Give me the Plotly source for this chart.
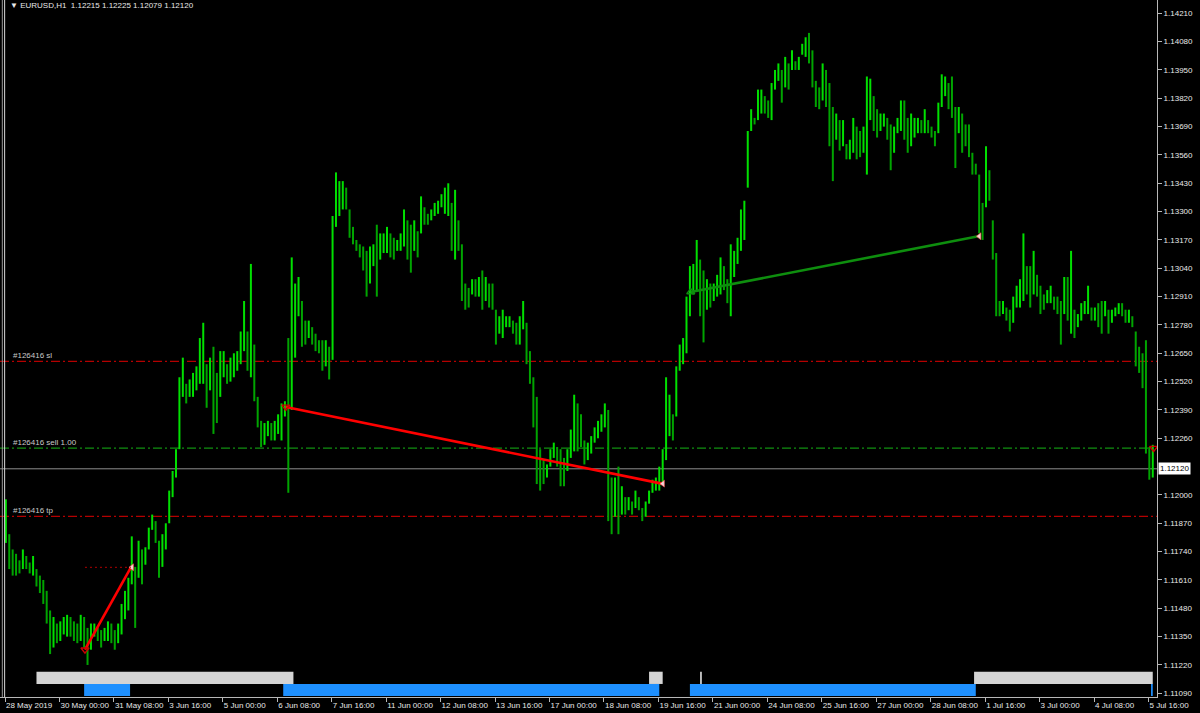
import plotly.graph_objects as go
from datetime import datetime, timedelta

# ---------------- data ----------------
SYMBOL = "EURUSD,H1"
header_ohlc = [1.12215, 1.12225, 1.12079, 1.12120]
first_bar_time = "2019-05-28 16:00"
n_hours = 676          # hourly bars on the chart (weekends skipped)
hours_per_bar = 2      # values below are read as 2-hour high/low ranges
label_every = 32       # hourly bars between time-axis labels

bar_high = [
    1.1198, 1.1182, 1.1175, 1.1173, 1.1170, 1.1175, 1.1172, 1.1169, 1.1172, 1.1166,
    1.1163, 1.1161, 1.1156, 1.1147, 1.1144, 1.1141, 1.1142, 1.1144, 1.1145, 1.1144,
    1.1142, 1.1141, 1.1145, 1.1144, 1.1139, 1.1141, 1.1141, 1.1139, 1.1138, 1.1139,
    1.1142, 1.1141, 1.1138, 1.1141, 1.1150, 1.1156, 1.1162, 1.1181, 1.1167, 1.1179,
    1.1175, 1.1176, 1.1185, 1.1191, 1.1188, 1.1179, 1.1182, 1.1187, 1.1202, 1.1211,
    1.1221, 1.1254, 1.1263, 1.1251, 1.1253, 1.1256, 1.1259, 1.1272, 1.1279, 1.1260,
    1.1263, 1.1268, 1.1256, 1.1266, 1.1266, 1.1260, 1.1263, 1.1265,
    1.1266, 1.1275, 1.1289, 1.1275, 1.1306, 1.1269, 1.1245, 1.1234, 1.1233, 1.1234, 1.1233,
    1.1234, 1.1237, 1.1242, 1.1243, 1.1272, 1.1309, 1.1297, 1.1300, 1.1289, 1.1280,
    1.1280, 1.1277, 1.1274, 1.1271, 1.1271, 1.1271, 1.1268, 1.1328, 1.1348, 1.1344,
    1.1344, 1.1341, 1.1331, 1.1323, 1.1317, 1.1315, 1.1314, 1.1312, 1.1314, 1.1315,
    1.1324, 1.1320, 1.1320, 1.1323, 1.1320,
    1.1318, 1.1317, 1.1320, 1.1331, 1.1326, 1.1324, 1.1326, 1.1321, 1.1337, 1.1332,
    1.1329, 1.1331, 1.1334, 1.1335, 1.1338, 1.1341, 1.1343, 1.1334, 1.1340, 1.1326,
    1.1315, 1.1297, 1.1295, 1.1299, 1.1299, 1.1300, 1.1303, 1.1300, 1.1297,
    1.1297, 1.1285, 1.1282, 1.1285, 1.1282, 1.1282, 1.1280, 1.1279, 1.1282,
    1.1289, 1.1279, 1.1266, 1.1254, 1.1245, 1.1221, 1.1216, 1.1214, 1.1221, 1.1224,
    1.1222, 1.1221, 1.1217, 1.1221, 1.1230, 1.1246, 1.1242, 1.1237, 1.1225, 1.1224,
    1.1227, 1.1231, 1.1234, 1.1237, 1.1242, 1.1239, 1.1208, 1.1208, 1.1213, 1.1204,
    1.1199, 1.1199, 1.1197, 1.1202, 1.1199, 1.1194, 1.1197, 1.1202, 1.1207, 1.1208,
    1.1213, 1.1221, 1.1254, 1.1246, 1.1237, 1.1259, 1.1269, 1.1272, 1.1291, 1.1305,
    1.1306, 1.1317, 1.1308, 1.1303, 1.1299, 1.1297, 1.1297, 1.1301, 1.1309, 1.1305,
    1.1299, 1.1315, 1.1312, 1.1318, 1.1331, 1.1335,
    1.1367, 1.1377, 1.1373, 1.1386, 1.1386, 1.1383, 1.1381, 1.1389, 1.1395, 1.1398,
    1.1395, 1.1401, 1.1398, 1.1404, 1.1399, 1.1401, 1.1407, 1.1410, 1.1412, 1.1404,
    1.1390, 1.1387, 1.1398, 1.1395, 1.1389, 1.1378, 1.1375, 1.1372, 1.1372, 1.1361,
    1.1363, 1.1373, 1.1369, 1.1367, 1.1369, 1.1392, 1.1391, 1.1383, 1.1377, 1.1375,
    1.1375, 1.1373, 1.1370, 1.1369, 1.1373, 1.1381, 1.1381, 1.1373, 1.1375, 1.1373,
    1.1373, 1.1372, 1.1377, 1.1372, 1.1369, 1.1367, 1.1380, 1.1393, 1.1392, 1.1389,
    1.1392, 1.1378, 1.1378, 1.1375, 1.1370, 1.1370, 1.1357, 1.1352, 1.1347, 1.1334,
    1.1360, 1.1349, 1.1326, 1.1311, 1.1289, 1.1289, 1.1286, 1.1285, 1.1291,
    1.1296, 1.1299, 1.1320, 1.1305, 1.1305, 1.1312, 1.1301, 1.1296, 1.1292, 1.1294,
    1.1296, 1.1291, 1.1291, 1.1289, 1.1300, 1.1300, 1.1312, 1.1285, 1.1283,
    1.1288, 1.1289, 1.1296, 1.1286, 1.1286, 1.1288, 1.1289, 1.1289, 1.1285, 1.1285,
    1.1286, 1.1288, 1.1288, 1.1285, 1.1285, 1.1282, 1.1275, 1.1268, 1.1265, 1.1271, 1.1222, 1.1223,
]
bar_low = [
    1.1178, 1.1166, 1.1163, 1.1163, 1.1164, 1.1166, 1.1166, 1.1164, 1.1163, 1.1158,
    1.1155, 1.1150, 1.1141, 1.1127, 1.1130, 1.1132, 1.1133, 1.1136, 1.1135, 1.1135,
    1.1133, 1.1132, 1.1133, 1.1130, 1.1122, 1.1129, 1.1135, 1.1133, 1.1130, 1.1133,
    1.1133, 1.1132, 1.1129, 1.1132, 1.1136, 1.1143, 1.1147, 1.1159, 1.1139, 1.1162,
    1.1159, 1.1168, 1.1175, 1.1184, 1.1178, 1.1162, 1.1167, 1.1175, 1.1187, 1.1199,
    1.1208, 1.1221, 1.1245, 1.1242, 1.1245, 1.1245, 1.1248, 1.1251, 1.1251, 1.1240,
    1.1248, 1.1228, 1.1233, 1.1245, 1.1254, 1.1251, 1.1252, 1.1254,
    1.1257, 1.1260, 1.1266, 1.1257, 1.1254, 1.1243, 1.1231, 1.1222, 1.1223, 1.1227, 1.1225,
    1.1225, 1.1228, 1.1225, 1.1236, 1.1201, 1.1239, 1.1263, 1.1282, 1.1268, 1.1269,
    1.1272, 1.1269, 1.1266, 1.1265, 1.1257, 1.1259, 1.1253, 1.1262, 1.1323, 1.1328,
    1.1331, 1.1331, 1.1318, 1.1315, 1.1312, 1.1309, 1.1303, 1.1291, 1.1297, 1.1305,
    1.1291, 1.1308, 1.1311, 1.1311, 1.1309,
    1.1308, 1.1312, 1.1312, 1.1314, 1.1308, 1.1302, 1.1312, 1.1309, 1.1320, 1.1324,
    1.1324, 1.1326, 1.1328, 1.1329, 1.1332, 1.1329, 1.1328, 1.1312, 1.1308, 1.1312,
    1.1289, 1.1285, 1.1286, 1.1292, 1.1291, 1.1291, 1.1285, 1.1289, 1.1286,
    1.1285, 1.1269, 1.1274, 1.1272, 1.1277, 1.1277, 1.1274, 1.1269, 1.1269,
    1.1276, 1.1260, 1.1251, 1.1231, 1.1205, 1.1202, 1.1205, 1.1208, 1.1213, 1.1217,
    1.1213, 1.1204, 1.1204, 1.1211, 1.1217, 1.1220, 1.1220, 1.1222, 1.1214, 1.1216,
    1.1219, 1.1224, 1.1226, 1.1229, 1.1231, 1.1188, 1.1182, 1.1190, 1.1182, 1.1191,
    1.1191, 1.1193, 1.1191, 1.1194, 1.1193, 1.1188, 1.1190, 1.1196, 1.1201, 1.1202,
    1.1202, 1.1205, 1.1216, 1.1227, 1.1225, 1.1236, 1.1257, 1.1260, 1.1265, 1.1282,
    1.1292, 1.1294, 1.1282, 1.1270, 1.1285, 1.1286, 1.1289, 1.1291, 1.1292, 1.1294,
    1.1288, 1.1282, 1.1300, 1.1306, 1.1312, 1.1317,
    1.1341, 1.1367, 1.1370, 1.1372, 1.1375, 1.1375, 1.1373, 1.1372, 1.1386, 1.1390,
    1.1380, 1.1387, 1.1386, 1.1395, 1.1395, 1.1395, 1.1402, 1.1401, 1.1398, 1.1387,
    1.1378, 1.1377, 1.1381, 1.1378, 1.1360, 1.1344, 1.1363, 1.1358, 1.1360, 1.1354,
    1.1354, 1.1357, 1.1354, 1.1355, 1.1357, 1.1347, 1.1372, 1.1367, 1.1364, 1.1367,
    1.1369, 1.1363, 1.1349, 1.1357, 1.1366, 1.1367, 1.1363, 1.1357, 1.1360, 1.1364,
    1.1366, 1.1366, 1.1366, 1.1366, 1.1364, 1.1360, 1.1366, 1.1378, 1.1383, 1.1377,
    1.1373, 1.1350, 1.1366, 1.1357, 1.1360, 1.1355, 1.1347, 1.1347, 1.1320, 1.1317,
    1.1332, 1.1335, 1.1308, 1.1282, 1.1282, 1.1283, 1.1280, 1.1275, 1.1279,
    1.1286, 1.1286, 1.1289, 1.1292, 1.1286, 1.1292, 1.1291, 1.1283, 1.1285, 1.1288,
    1.1288, 1.1285, 1.1283, 1.1269, 1.1283, 1.1280, 1.1274, 1.1272, 1.1277,
    1.1280, 1.1283, 1.1283, 1.1280, 1.1280, 1.1277, 1.1274, 1.1282, 1.1274, 1.1279,
    1.1282, 1.1283, 1.1282, 1.1279, 1.1279, 1.1277, 1.1259, 1.1256, 1.1249, 1.1219, 1.1207, 1.1208,
]

# price-axis labels (1.12130 is hidden behind the current-price box, as in the terminal)
price_ticks = [1.11090, 1.11220, 1.11350, 1.11480, 1.11610, 1.11740, 1.11870, 1.12000,
               1.12260, 1.12390, 1.12520, 1.12650, 1.12780, 1.12910, 1.13040,
               1.13170, 1.13300, 1.13430, 1.13560, 1.13690, 1.13820, 1.13950, 1.14080,
               1.14210]
price_range = [1.11073, 1.14271]

order_id = "#126416"
level_names = ["sl", "sell 1.00", "tp"]
level_prices = [1.12613, 1.12215, 1.11902]
current_price = 1.12120

trade_open_time = ["2019-05-30 15:00", "2019-06-06 13:00", "2019-06-20 11:00", "2019-07-05 19:00"]
trade_open_price = [1.11290, 1.12404, 1.12931, 1.12215]
trade_close_time = ["2019-05-31 18:00", "2019-06-19 18:00", "2019-07-01 12:00", None]
trade_close_price = [1.11668, 1.12052, 1.13187, None]
trade_side = ["red", "red", "green", "red"]

gray_periods = [("2019-05-29 11:00", "2019-06-06 17:00"), ("2019-06-19 11:00", "2019-06-19 18:00"),
                ("2019-06-20 17:00", "2019-06-20 17:00"), ("2019-07-01 10:00", "2019-07-05 18:00")]
blue_periods = [("2019-05-30 15:00", "2019-05-31 17:00"), ("2019-06-06 12:00", "2019-06-19 16:00"),
                ("2019-06-20 11:00", "2019-07-01 10:00"), ("2019-07-05 18:00", "2019-07-05 18:00")]

# ---------------- time index (hourly, no weekends) ----------------
times = []
t = datetime.strptime(first_bar_time, "%Y-%m-%d %H:%M")
while len(times) < n_hours:
    if t.weekday() < 5:
        times.append(t)
    t += timedelta(hours=1)
tindex = {tt.strftime("%Y-%m-%d %H:%M"): i for i, tt in enumerate(times)}

tick_idx = list(range(0, n_hours, label_every))
tick_txt = []
for i in tick_idx:
    tt = times[i]
    tick_txt.append(f"{tt.day} {tt:%b %Y}" if i == 0 else f"{tt.day} {tt:%b %H:%M}")

# ---------------- styles ----------------
FONT = "Liberation Sans, Arial, sans-serif"
TXT = "#E8E8E8"
AX = "#B8B8B8"
UP = "#00E000"
DN = "#00A400"

fig = go.Figure()

xu, yu, xd, yd = [], [], [], []
prev_mid = None
for k, (hi, lo) in enumerate(zip(bar_high, bar_low)):
    xc = k * hours_per_bar + 0.5
    mid = (hi + lo) / 2
    if prev_mid is None or mid >= prev_mid:
        xu += [xc, xc, None]; yu += [lo, hi, None]
    else:
        xd += [xc, xc, None]; yd += [lo, hi, None]
    prev_mid = mid
fig.add_trace(go.Scatter(x=xd, y=yd, mode="lines", line=dict(color=DN, width=2), hoverinfo="skip"))
fig.add_trace(go.Scatter(x=xu, y=yu, mode="lines", line=dict(color=UP, width=2), hoverinfo="skip"))

# trades
side_col = {"red": "#FF0000", "green": "#0E8E0E"}
mark_col = {"red": "#D00000", "green": "#0E8E0E"}
for ot, op, ct, cp, sd in zip(trade_open_time, trade_open_price, trade_close_time, trade_close_price, trade_side):
    ox = tindex[ot]
    if ct is not None:
        cx = tindex[ct]
        fig.add_trace(go.Scatter(x=[ox, cx], y=[op, cp], mode="lines",
                                 line=dict(color=side_col[sd], width=2.6), hoverinfo="skip"))
        fig.add_trace(go.Scatter(x=[cx + 0.6], y=[cp], mode="markers",
                                 marker=dict(symbol="triangle-left", size=6, color="#F2D6D6",
                                             line=dict(color="#FF5050", width=0.6)), hoverinfo="skip"))
    sym = "triangle-up-open" if sd == "green" else "triangle-down-open"
    fig.add_trace(go.Scatter(x=[ox], y=[op], mode="markers",
                             marker=dict(symbol=sym, size=7, color=mark_col[sd], line=dict(width=1.4)),
                             hoverinfo="skip"))

# dotted close level of the first trade
fig.add_trace(go.Scatter(x=[tindex[trade_open_time[0]], tindex[trade_close_time[0]]],
                         y=[trade_close_price[0], trade_close_price[0]], mode="lines",
                         line=dict(color="#B00000", width=1, dash="2px,3px"), hoverinfo="skip"))

shapes = []
lvl_col = ["#B40000", "#109010", "#B40000"]
for p, c in zip(level_prices, lvl_col):
    shapes.append(dict(type="line", xref="paper", x0=0, x1=1, yref="y", y0=p, y1=p,
                       line=dict(color=c, width=1.2, dash="9px,3px,2px,3px"), layer="below"))
shapes.append(dict(type="line", xref="paper", x0=0, x1=1, yref="y", y0=current_price, y1=current_price,
                   line=dict(color="#8E8E8E", width=1), layer="below"))

for a, b in gray_periods:
    shapes.append(dict(type="rect", xref="x", yref="paper", x0=tindex[a] - 0.5, x1=tindex[b] + 0.5,
                       y0=0.0187, y1=0.0363, fillcolor="#D4D4D4", line=dict(width=0)))
for a, b in blue_periods:
    shapes.append(dict(type="rect", xref="x", yref="paper", x0=tindex[a] - 0.5, x1=tindex[b] + 0.5,
                       y0=0.0015, y1=0.0187, fillcolor="#1E90FF", line=dict(width=0)))

# window frame on the left
shapes.append(dict(type="line", xref="paper", yref="paper", x0=0.0020, x1=0.0020, y0=0, y1=1,
                   line=dict(color="#9A9A9A", width=1)))
shapes.append(dict(type="line", xref="paper", yref="paper", x0=0.0040, x1=0.0040, y0=0, y1=1,
                   line=dict(color="#D8D8D8", width=1)))

ann = []
ann.append(dict(xref="paper", yref="paper", x=0.0065, y=0.9914, xanchor="left", yanchor="middle",
                text="\u25BC " + SYMBOL + "  " + " ".join(f"{v:.5f}" for v in header_ohlc),
                showarrow=False, font=dict(family=FONT, size=8, color=TXT)))
for nm, p in zip(level_names, level_prices):
    ann.append(dict(xref="paper", yref="y", x=0.0092, y=p, xanchor="left", yanchor="middle", yshift=6,
                    text=f"{order_id} {nm}", showarrow=False, font=dict(family=FONT, size=8, color="#C8C8C8")))
ann.append(dict(xref="paper", yref="y", x=1, y=current_price, xanchor="left", yanchor="middle", xshift=1,
                text=f"{current_price:.5f}", showarrow=False, bgcolor="#FFFFFF", borderpad=1,
                font=dict(family=FONT, size=8, color="#000000")))

fig.update_layout(
    width=1200, height=713,
    margin=dict(l=0, r=43, t=0, b=16, autoexpand=False),
    paper_bgcolor="#000000", plot_bgcolor="#000000",
    showlegend=False, shapes=shapes, annotations=ann,
    xaxis=dict(range=[-2.94, 677.0], tickvals=tick_idx, ticktext=tick_txt, ticks="outside", ticklen=4,
               tickcolor=AX, showline=True, linecolor=AX, linewidth=1, showgrid=False, zeroline=False,
               ticklabelposition="outside right", tickangle=0, automargin=False,
               tickfont=dict(family=FONT, size=8, color=TXT), fixedrange=True),
    yaxis=dict(range=price_range, side="right", tickvals=price_ticks,
               ticktext=[f"{v:.5f}" for v in price_ticks], ticks="outside", ticklen=4, tickcolor=AX,
               showline=True, linecolor=AX, linewidth=1, showgrid=False, zeroline=False, automargin=False,
               tickfont=dict(family=FONT, size=8, color=TXT), fixedrange=True),
)

fig.write_html("out.html", post_script="document.body.style.margin='0';", config={"displayModeBar": False})
